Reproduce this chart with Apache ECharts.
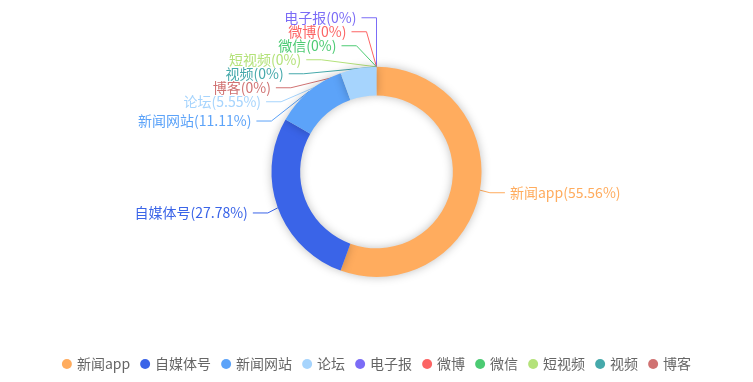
<!DOCTYPE html>
<html><head><meta charset="utf-8">
<script src="https://cdn.jsdelivr.net/npm/echarts@6/dist/echarts.min.js"></script>
<style>html,body{margin:0;padding:0;background:#fff}#c{width:753px;height:382px}</style>
</head><body><div id="c"></div>
<script>
const categories = ['新闻app','自媒体号','新闻网站','论坛','电子报','微博','微信','短视频','视频','博客'];
const values = [10,5,2,1,0,0,0,0,0,0];
const colors = ['#ffac5e','#3a64e8','#5ca3f9','#a6d4fd','#7b6cf6','#fc6464','#4ccb73','#b4e27a','#46a9ab','#d07272'];

const LABEL_FONT = 14, LEN = 15, LEN2 = 15, DIST = 5;
const chart = echarts.init(document.getElementById('c'));

// Classic (ECharts 4 style) outer-label overlap avoidance, computed from the pie's own item layout.
function classicLabelLayout() {
  const data = chart.getModel().getSeriesByIndex(0).getData();
  const W = chart.getWidth(), H = chart.getHeight();
  const items = [];
  let cx = 0, cy = 0, r = 0;
  for (let i = 0; i < data.count(); i++) {
    const lay = data.getItemLayout(i);
    cx = lay.cx; cy = lay.cy; r = lay.r;
    const mid = (lay.startAngle + lay.endAngle) / 2;
    const dx = Math.cos(mid), dy = Math.sin(mid);
    const x1 = cx + r * dx, y1 = cy + r * dy;
    const x2 = x1 + dx * LEN, y2 = y1 + dy * LEN;
    const s = dx < 0 ? -1 : 1;
    const x3 = x2 + s * LEN2;
    items.push({idx: data.getRawIndex(i), x: x3 + s * DIST, y: y2, height: LABEL_FONT,
      len: LEN, len2: LEN2, p0: [x1, y1], dist: x2 - x3});
  }
  const left = items.filter(d => d.x < cx), right = items.filter(d => d.x >= cx);
  function side(list, dir) {
    list.sort((a, b) => a.y - b.y);
    const len = list.length;
    function shiftUp(end, delta) {
      for (let j = end; j >= 0; j--) {
        if (list[j].y - delta < 0) break;
        list[j].y -= delta;
        if (j > 0 && list[j].y > list[j - 1].y + list[j - 1].height) break;
      }
    }
    function shiftDown(start, end, delta) {
      for (let j = start; j < end; j++) {
        if (list[j].y + delta > H) break;
        list[j].y += delta;
        if (j > start && j + 1 < end && list[j + 1].y > list[j].y + list[j].height) {
          shiftUp(j, delta / 2);
          return;
        }
      }
      shiftUp(end - 1, delta / 2);
    }
    let lastY = 0;
    for (let i = 0; i < len; i++) {
      const delta = list[i].y - lastY;
      if (delta < 0) shiftDown(i, len, -delta);
      lastY = list[i].y + list[i].height;
    }
    if (H - lastY < 0) shiftUp(len - 1, lastY - H);
    const up = [], down = [];
    list.forEach(d => (d.y >= cy ? down : up).push(d));
    function changeX(sub, isDown) {
      let last = isDown ? Number.MAX_VALUE : 0;
      sub.forEach(d => {
        const dyy = Math.abs(d.y - cy);
        const R = r + d.len + d.len2;
        let dxx = dyy < r + d.len ? Math.sqrt(R * R - dyy * dyy) : Math.abs(d.x - cx);
        if (isDown && dxx >= last) dxx = last - 10;
        if (!isDown && dxx <= last) dxx = last + 10;
        d.x = cx + dxx * dir;
        last = dxx;
      });
    }
    changeX(up, false);
    changeX(down, true);
  }
  side(right, 1);
  side(left, -1);
  const out = {};
  items.forEach(d => {
    const isLeft = d.x < cx;
    const p2x = isLeft ? d.x + DIST : d.x - DIST;
    out[d.idx] = {x: d.x, y: d.y, align: isLeft ? 'right' : 'left',
      points: [d.p0, [p2x + d.dist, d.y], [p2x, d.y]]};
  });
  return out;
}

chart.setOption({
  color: colors,
  textStyle: {fontFamily: '"Noto Sans CJK SC", sans-serif'},
  legend: {
    bottom: 6, left: 'center', icon: 'circle', itemWidth: 10, itemHeight: 10, itemGap: 10,
    textStyle: {color: '#666', fontSize: 14, fontFamily: '"Noto Sans CJK SC", sans-serif'},
    data: categories
  },
  series: [{
    type: 'pie',
    radius: ['40%','55%'],
    center: ['50%','45%'],
    startAngle: 90,
    avoidLabelOverlap: false,
    itemStyle: {shadowBlur: 10, shadowColor: 'rgba(0,0,0,0.25)'},
    label: {
      formatter: '{b}({d}%)', fontSize: LABEL_FONT,
      fontFamily: '"Noto Sans CJK SC", sans-serif'
    },
    labelLine: {length: LEN, length2: LEN2},
    labelLayout: function (params) {
      const it = classicLabelLayout()[params.dataIndex];
      if (!it) return {};
      return {x: it.x, y: it.y, align: it.align, verticalAlign: 'middle', labelLinePoints: it.points};
    },
    data: categories.map((n,i)=>({name:n, value: values[i], label: {color: colors[i]}}))
  }]
});
</script></body></html>
